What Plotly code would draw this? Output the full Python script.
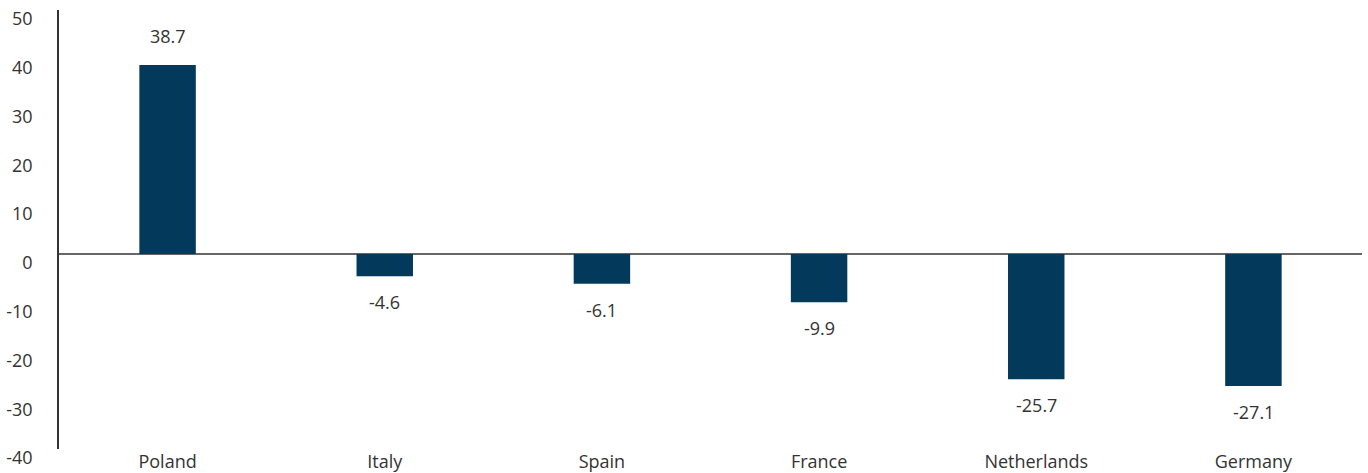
import plotly.graph_objects as go

countries = ["Poland", "Italy", "Spain", "France", "Netherlands", "Germany"]
values = [38.7, -4.6, -6.1, -9.9, -25.7, -27.1]
y_ticks = [-40, -30, -20, -10, 0, 10, 20, 30, 40, 50]
y_tick_labels = [str(t) for t in y_ticks]

bar_color = "#03395a"
text_color = "#333333"
font_family = "'Open Sans', sans-serif"
font_size = 18

fig = go.Figure()
fig.add_trace(go.Bar(
    x=countries,
    y=values,
    marker=dict(color=bar_color, line=dict(width=0)),
    width=0.26,
    hoverinfo="x+y",
))

# value labels placed beyond each bar end
for c, v in zip(countries, values):
    fig.add_annotation(
        x=c, y=v, text=f"{v:.1f}", showarrow=False,
        yanchor="middle", yshift=29 if v >= 0 else -26,
        font=dict(size=font_size, color=text_color, family=font_family),
    )

fig.update_layout(
    width=1368, height=473,
    margin=dict(l=59, r=6, t=10, b=24),
    paper_bgcolor="white", plot_bgcolor="white",
    showlegend=False,
    font=dict(family=font_family, size=font_size, color=text_color),
)
fig.update_xaxes(
    showgrid=False, showline=False, ticks="", automargin=False,
    tickfont=dict(size=font_size, color=text_color),
    range=[-0.5, 5.5],
)
fig.update_yaxes(
    range=[-40, 50], tickvals=y_ticks, ticktext=y_tick_labels, automargin=False,
    showgrid=False, showline=True, linecolor="#333333", linewidth=1.5,
    zeroline=True, zerolinecolor="#666666", zerolinewidth=2,
    ticks="", ticklabelstandoff=21, ticklabelshift=9,
    tickfont=dict(size=font_size, color=text_color),
)

fig.write_html("out.html")
